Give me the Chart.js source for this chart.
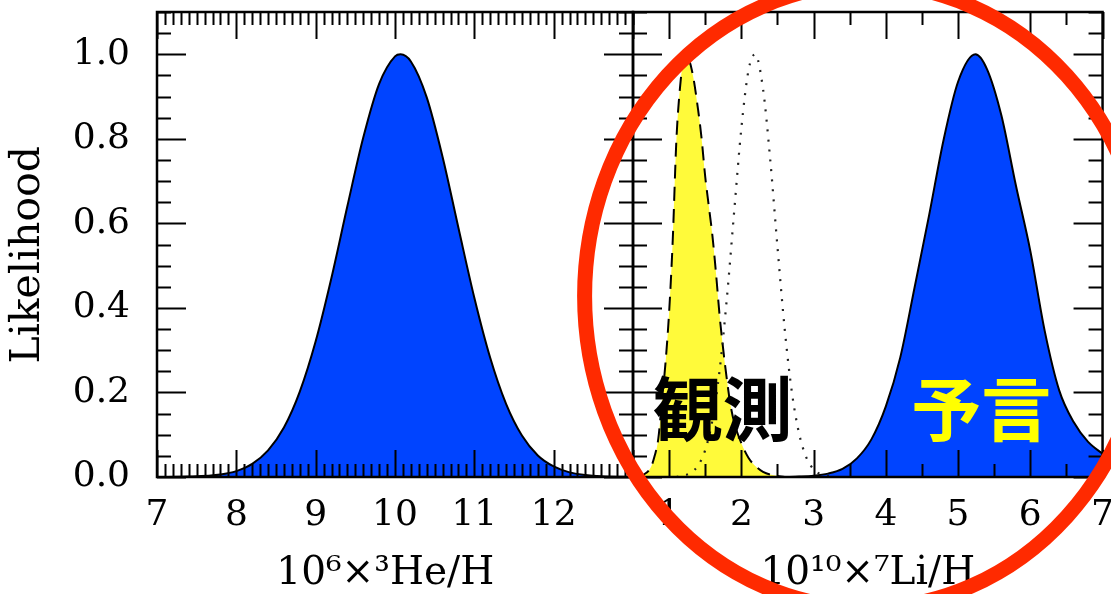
<!DOCTYPE html>
<html>
<head>
<meta charset="utf-8">
<script src="https://cdn.jsdelivr.net/npm/chart.js@4.4.0/dist/chart.umd.min.js"></script>
<style>
  html, body { margin: 0; padding: 0; background: #fff; overflow: hidden; width: 1111px; height: 594px; }
  canvas { position: absolute; top: -50px; left: 0; }
</style>
</head>
<body>
<canvas id="heChart" width="1111" height="644"></canvas>
<canvas id="liChart" width="1131" height="644"></canvas>
<script>
// --- values ---
const likelihoodTicks = [0, 0.2, 0.4, 0.6, 0.8, 1.0];

// left panel: 3He/H
const heTicks = [7, 8, 9, 10, 11, 12];
const heX = [7.0, 7.4, 7.8, 8.0, 8.2, 8.4, 8.6, 8.8, 9.0, 9.2, 9.4, 9.6, 9.8, 10.0, 10.07,
             10.2, 10.4, 10.6, 10.8, 11.0, 11.2, 11.4, 11.6, 11.8, 12.0, 12.2, 12.4, 12.6, 13.0];
const heY = [0, 0.001, 0.006, 0.014, 0.031, 0.063, 0.117, 0.202, 0.321, 0.472, 0.641, 0.803, 0.930, 0.995, 1.0,
             0.983, 0.898, 0.757, 0.589, 0.424, 0.282, 0.173, 0.098, 0.051, 0.025, 0.011, 0.005, 0.002, 0];

// right panel: 7Li/H
const liTicks = [1, 2, 3, 4, 5, 6, 7];
// observed (yellow, dashed)
const liObsX = [0.55, 0.65, 0.75, 0.80, 0.85, 0.90, 0.95, 1.00, 1.05, 1.10, 1.15, 1.20, 1.23, 1.27, 1.33, 1.40,
                1.45, 1.50, 1.55, 1.60, 1.65, 1.70, 1.75, 1.80, 1.85, 1.90, 2.00, 2.10, 2.20, 2.30, 2.45, 2.60];
const liObsY = [0, 0.006, 0.024, 0.05, 0.09, 0.18, 0.27, 0.39, 0.56, 0.795, 0.92, 0.99, 1.0, 0.99, 0.95, 0.87,
                0.80, 0.71, 0.64, 0.57, 0.48, 0.38, 0.30, 0.23, 0.17, 0.13, 0.08, 0.045, 0.025, 0.012, 0.004, 0];
// dotted
const liAltX = [1.1, 1.2, 1.3, 1.4, 1.5, 1.6, 1.7, 1.8, 1.9, 2.0, 2.1, 2.19, 2.3, 2.4, 2.5, 2.6, 2.7, 2.8, 2.9,
                3.0, 3.1, 3.2, 3.3];
const liAltY = [0, 0.003, 0.010, 0.027, 0.064, 0.135, 0.254, 0.424, 0.627, 0.825, 0.963, 1.0, 0.918, 0.750, 0.544,
                0.350, 0.200, 0.102, 0.046, 0.018, 0.0065, 0.002, 0];
// predicted (blue)
const liPredX = [2.6, 2.8, 3.0, 3.2, 3.4, 3.6, 3.8, 4.0, 4.2, 4.4, 4.6, 4.8, 5.0, 5.24, 5.4, 5.6, 5.8, 6.0, 6.2,
                 6.4, 6.6, 6.8, 7.0];
const liPredY = [0, 0.001, 0.003, 0.008, 0.019, 0.044, 0.089, 0.167, 0.283, 0.45, 0.62, 0.798, 0.935, 1.0, 0.965,
                 0.855, 0.69, 0.535, 0.345, 0.205, 0.13, 0.083, 0.055];

// annotations (in right-panel data units)
const noteLabels = [
    { text: '観測', x: 1.74, y: 0.161, color: '#000000' },
    { text: '予言', x: 5.32, y: 0.161, color: '#ffff00' }
];
const ring = { x: 3.74, y: 0.428, rx: 3.91, ry: 0.738 };

const colors = {
    blue: '#0044ff',
    yellow: '#fffa3a',
    ring: '#ff2a00'
};
const serif = 'DejaVu Serif';
Chart.defaults.font.family = serif;
Chart.defaults.color = '#000';

function points(xs, ys) {
    return xs.map((x, i) => ({ x: x, y: ys[i] }));
}

// frame with inward ticks on all four sides
const frameTicks = {
    id: 'frameTicks',
    afterDatasetsDraw(chart, args, opts) {
        const { ctx, chartArea: a, scales: { x, y } } = chart;
        ctx.save();
        ctx.strokeStyle = '#000';
        ctx.lineWidth = 2;
        ctx.beginPath();
        const nx = Math.round((x.max - x.min) / opts.xMinor);
        for (let i = 0; i <= nx; i++) {
            const v = x.min + i * opts.xMinor;
            const major = Math.abs(v / opts.xMajor - Math.round(v / opts.xMajor)) < 1e-6;
            const len = major ? 27 : 13;
            const px = Math.round(x.getPixelForValue(v)) + 0.5;
            ctx.moveTo(px, a.bottom); ctx.lineTo(px, a.bottom - len);
            ctx.moveTo(px, a.top); ctx.lineTo(px, a.top + len);
        }
        const ny = Math.round((y.max - y.min) / 0.05);
        for (let i = 0; i <= ny; i++) {
            const len = i % 4 === 0 ? 29 : 14;
            const py = Math.round(y.getPixelForValue(i * 0.05)) + 0.5;
            ctx.moveTo(a.left, py); ctx.lineTo(a.left + len, py);
            ctx.moveTo(a.right, py); ctx.lineTo(a.right - len, py);
        }
        ctx.stroke();
        ctx.lineWidth = 2.5;
        ctx.strokeRect(a.left, a.top, a.right - a.left, a.bottom - a.top);
        ctx.restore();
    }
};

// Japanese labels and the red ring
const notes = {
    id: 'notes',
    afterDraw(chart) {
        const { ctx, scales: { x, y } } = chart;
        ctx.save();
        ctx.font = 'bold 70px "Noto Sans CJK JP"';
        ctx.textAlign = 'center';
        ctx.textBaseline = 'middle';
        noteLabels.forEach(n => {
            ctx.fillStyle = n.color;
            ctx.fillText(n.text, x.getPixelForValue(n.x), y.getPixelForValue(n.y));
        });
        const cx = x.getPixelForValue(ring.x);
        const cy = y.getPixelForValue(ring.y);
        const rx = x.getPixelForValue(ring.x + ring.rx) - cx;
        const ry = cy - y.getPixelForValue(ring.y + ring.ry);
        ctx.beginPath();
        ctx.ellipse(cx, cy, rx, ry, 0, 0, Math.PI * 2);
        ctx.lineWidth = 15;
        ctx.strokeStyle = colors.ring;
        ctx.stroke();
        ctx.restore();
    }
};

const tickFont = { family: serif, size: 36, lineHeight: 1.2 };
const xTitleFont = { family: serif, size: 39, lineHeight: 1 };

function xScale(min, max, ticks, title) {
    return {
        type: 'linear',
        min: min,
        max: max,
        afterBuildTicks: s => { s.ticks = ticks.map(v => ({ value: v })); },
        afterFit: s => { s.height = 117; },
        grid: { display: false, drawTicks: false },
        border: { display: false },
        ticks: { font: tickFont, color: '#000', padding: 17, autoSkip: false, maxRotation: 0 },
        title: { display: true, text: title, font: xTitleFont, color: '#000', padding: { top: 0, bottom: 0.5 } }
    };
}

// --- left panel ---
new Chart(document.getElementById('heChart'), {
    type: 'line',
    data: {
        datasets: [{
            data: points(heX, heY),
            borderColor: '#000',
            borderWidth: 2,
            backgroundColor: colors.blue,
            fill: 'origin',
            pointRadius: 0,
            cubicInterpolationMode: 'monotone'
        }]
    },
    options: {
        responsive: false,
        animation: false,
        events: [],
        layout: { padding: { left: 0, top: 62, right: 478, bottom: 0 } },
        plugins: {
            legend: { display: false },
            tooltip: { enabled: false },
            frameTicks: { xMinor: 0.1, xMajor: 1 }
        },
        scales: {
            x: xScale(7, 13, heTicks, '10\u2076\u00d7\u00b3He/H\u2002'),
            y: {
                min: 0,
                max: 1.1,
                afterBuildTicks: s => { s.ticks = likelihoodTicks.map(v => ({ value: v })); },
                afterFit: s => { s.width = 157; },
                grid: { display: false, drawTicks: false },
                border: { display: false },
                ticks: { font: tickFont, color: '#000', padding: 27, callback: v => Number(v).toFixed(1) },
                title: {
                    display: true,
                    text: 'Likelihood\u2002',
                    font: { family: serif, size: 41, lineHeight: 1.2 },
                    color: '#000',
                    padding: { top: 4, bottom: 0 }
                }
            }
        }
    },
    plugins: [frameTicks]
});

// --- right panel ---
new Chart(document.getElementById('liChart'), {
    type: 'line',
    data: {
        datasets: [
            {
                // dotted curve, on top
                data: points(liAltX, liAltY),
                borderColor: '#222',
                borderWidth: 2.2,
                borderDash: [2, 8],
                fill: false,
                pointRadius: 0,
                cubicInterpolationMode: 'monotone',
                order: 0
            },
            {
                data: points(liObsX, liObsY),
                borderColor: '#000',
                borderWidth: 2,
                borderDash: [14, 8],
                backgroundColor: colors.yellow,
                fill: 'origin',
                pointRadius: 0,
                cubicInterpolationMode: 'monotone',
                order: 1
            },
            {
                data: points(liPredX, liPredY),
                borderColor: '#000',
                borderWidth: 2,
                backgroundColor: colors.blue,
                fill: 'origin',
                pointRadius: 0,
                cubicInterpolationMode: 'monotone',
                order: 2
            }
        ]
    },
    options: {
        responsive: false,
        animation: false,
        events: [],
        layout: { padding: { left: 633, top: 62, right: 23, bottom: 0 } },
        plugins: {
            legend: { display: false },
            tooltip: { enabled: false },
            frameTicks: { xMinor: 0.5, xMajor: 1 }
        },
        scales: {
            x: xScale(0.5, 7, liTicks, '10\u00b9\u2070\u00d7\u2077Li/H'),
            y: { display: false, min: 0, max: 1.1 }
        }
    },
    plugins: [frameTicks, notes]
});
</script>
</body>
</html>
